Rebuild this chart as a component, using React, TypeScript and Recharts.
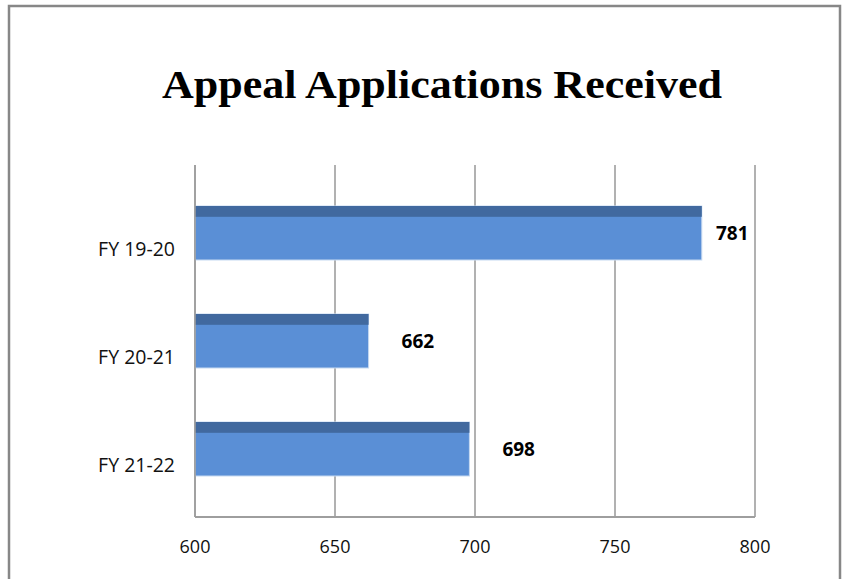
import { BarChart, Bar, XAxis, YAxis, CartesianGrid, LabelList } from 'recharts';

const categories = ['FY 19-20', 'FY 20-21', 'FY 21-22'];
const applications = [781, 662, 698];
const xTicks = [600, 650, 700, 750, 800];

const data = categories.map((year, i) => ({ year, applications: applications[i] }));

const LABEL_FONT = '"Open Sans", "Noto Sans", sans-serif';

// bar with a darker strip on top, like the 3D top face in the original
const StripedBar = (props: any) => {
  const { x, y, width, height } = props;
  if (!width || width <= 0) return null;
  const strip = height * 0.2;
  return (
    <g>
      <rect x={x} y={y} width={width} height={height} fill='#5a8fd6' stroke='#c6d9f1' strokeWidth={1} />
      <rect x={x} y={y} width={width} height={strip} fill='#41699f' />
    </g>
  );
};

const ValueLabel = (props: any) => {
  const { x, y, width, height, value } = props;
  const tx = Math.min(x + width + 33, 716);
  return (
    <text
      x={tx}
      y={y + height / 2}
      dominantBaseline='central'
      fontFamily={LABEL_FONT}
      fontWeight='bold'
      fontSize={19}
      fill='#000'
    >
      {value}
    </text>
  );
};

const YTick = (props: any) => {
  const { x, y, payload } = props;
  return (
    <text
      x={x}
      y={y + 15}
      textAnchor='end'
      dominantBaseline='central'
      fontFamily={LABEL_FONT}
      fontSize={19.5}
      fill='#111'
    >
      {payload.value}
    </text>
  );
};

const App = () => {
  return (
    <div style={{ position: 'absolute', left: 0, top: 0, width: 846, height: 579, background: '#fff' }}>
      <svg width={846} height={579} style={{ position: 'absolute', left: 0, top: 0 }}>
        <rect x={9} y={6} width={831} height={600} fill='none' stroke='#878787' strokeWidth={2.5} />
        <text
          x={442}
          y={98}
          textAnchor='middle'
          textLength={560}
          lengthAdjust='spacingAndGlyphs'
          fontFamily='"Liberation Serif", "DejaVu Serif", serif'
          fontWeight='bold'
          fontSize={39}
          fill='#000'
        >
          Appeal Applications Received
        </text>
      </svg>
      <div style={{ position: 'absolute', left: 0, top: 0 }}>
        <BarChart
          width={846}
          height={579}
          data={data}
          layout='vertical'
          margin={{ top: 165, right: 91, bottom: 32, left: 75 }}
        >
          <CartesianGrid horizontal={false} stroke='#9e9e9e' strokeWidth={1.6} />
          <XAxis
            type='number'
            domain={[600, 800]}
            ticks={xTicks}
            allowDataOverflow
            height={30}
            tickSize={0}
            tickMargin={23}
            tickLine={false}
            axisLine={{ stroke: '#9e9e9e', strokeWidth: 2 }}
            tick={{ fontFamily: LABEL_FONT, fontSize: 18, fill: '#111' }}
          />
          <YAxis
            type='category'
            dataKey='year'
            width={120}
            padding={{ top: 14, bottom: 14 }}
            tickSize={0}
            tickMargin={20}
            tickLine={false}
            axisLine={{ stroke: '#9e9e9e', strokeWidth: 1.6 }}
            tick={<YTick />}
          />
          <Bar dataKey='applications' barSize={54} shape={<StripedBar />} isAnimationActive={false}>
            <LabelList dataKey='applications' content={<ValueLabel />} />
          </Bar>
        </BarChart>
      </div>
    </div>
  );
};

export default App;
